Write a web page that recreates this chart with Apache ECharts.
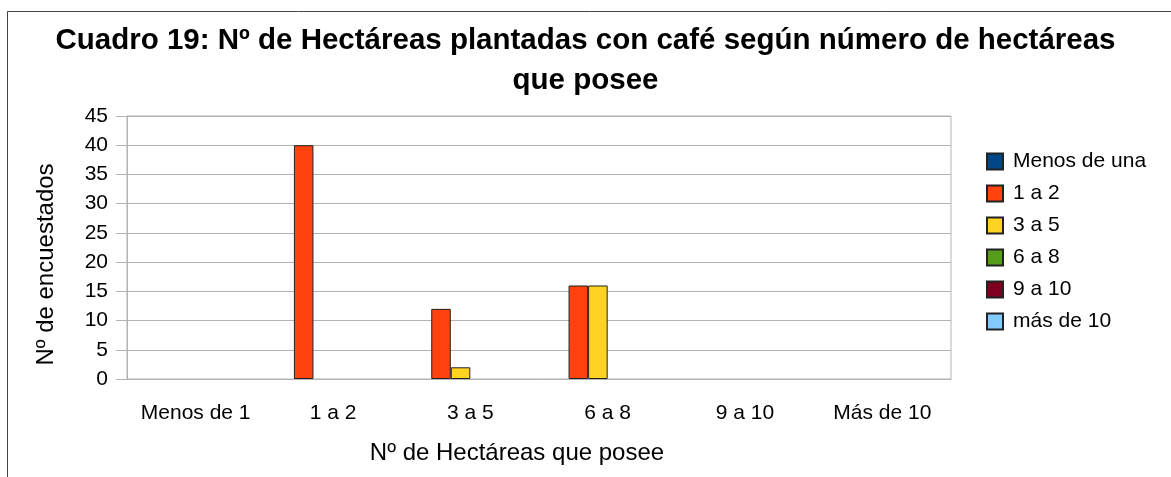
<!DOCTYPE html>
<html>
<head>
<meta charset="utf-8">
<title>Cuadro 19</title>
<script src="https://cdn.jsdelivr.net/npm/echarts@6/dist/echarts.min.js"></script>
<style>
  html, body { margin: 0; padding: 0; background: #fff; }
  #chart { width: 1171px; height: 477px; }
</style>
</head>
<body>
<div id="chart"></div>
<script>
// categories on the x axis
const categories = ['Menos de 1', '1 a 2', '3 a 5', '6 a 8', '9 a 10', 'Más de 10']

// one series per legend entry
const seriesNames = ['Menos de una', '1 a 2', '3 a 5', '6 a 8', '9 a 10', 'más de 10']
const menosDeUna = [0, 0, 0, 0, 0, 0]
const unoADos = [0, 40, 12, 16, 0, 0]
const tresACinco = [0, 0, 2, 16, 0, 0]
const seisAOcho = [0, 0, 0, 0, 0, 0]
const nueveADiez = [0, 0, 0, 0, 0, 0]
const masDeDiez = [0, 0, 0, 0, 0, 0]
const seriesValues = [menosDeUna, unoADos, tresACinco, seisAOcho, nueveADiez, masDeDiez]

const colors = ['#004586', '#ff420e', '#ffd320', '#579d1c', '#7e0021', '#83caff']

const yMin = 0
const yMax = 45
const yStep = 5

const font = '"Liberation Sans", Arial, sans-serif'

const chart = echarts.init(document.getElementById('chart'), null, { renderer: 'canvas' })

chart.setOption({
  backgroundColor: '#ffffff',
  animation: false,
  color: colors,
  textStyle: { fontFamily: font, color: '#000' },
  title: {
    text: 'Cuadro 19: Nº de Hectáreas plantadas con café según número de hectáreas\nque posee',
    left: 'center',
    top: 16,
    padding: [5, 0, 5, 14],
    textStyle: {
      fontFamily: font,
      fontSize: 29.5,
      fontWeight: 'bold',
      lineHeight: 40,
      align: 'center',
      color: '#000',
    },
  },
  legend: {
    orient: 'vertical',
    left: 986,
    top: 151,
    itemWidth: 16,
    itemHeight: 16,
    itemGap: 11,
    icon: 'rect',
    padding: 0,
    textStyle: {
      fontFamily: font,
      fontSize: 21,
      lineHeight: 21,
      color: '#000',
      padding: [0, 0, 0, 5],
    },
    data: seriesNames,
  },
  grid: {
    left: 127,
    right: 220,
    top: 116,
    bottom: 98,
    show: true,
    borderColor: '#b3b3b3',
    borderWidth: 1,
  },
  xAxis: {
    type: 'category',
    data: categories,
    name: 'Nº de Hectáreas que posee',
    nameLocation: 'middle',
    nameGap: 62,
    nameTextStyle: {
      fontFamily: font,
      fontSize: 24,
      color: '#000',
      padding: [0, 44, 0, 0],
    },
    axisLine: { lineStyle: { color: '#b3b3b3' } },
    axisTick: { length: 11, lineStyle: { color: '#b3b3b3' } },
    axisLabel: { interval: 0, fontFamily: font, fontSize: 21, color: '#000', margin: 24 },
  },
  yAxis: {
    type: 'value',
    min: yMin,
    max: yMax,
    interval: yStep,
    name: 'Nº de encuestados',
    nameLocation: 'middle',
    nameRotate: 90,
    nameGap: 69,
    nameTextStyle: {
      fontFamily: font,
      fontSize: 24,
      color: '#000',
      padding: [0, 34, 0, 0],
    },
    axisLine: { show: true, lineStyle: { color: '#b3b3b3' } },
    axisTick: { show: true, length: 11, lineStyle: { color: '#b3b3b3' } },
    axisLabel: { fontFamily: font, fontSize: 21, color: '#000', margin: 19 },
    splitLine: { lineStyle: { color: '#b3b3b3' } },
  },
  graphic: [
    {
      type: 'rect',
      silent: true,
      shape: { x: 7.5, y: 11.5, width: 1200, height: 500 },
      style: { fill: 'none', stroke: '#444', lineWidth: 1 },
    },
  ],
  series: seriesNames.map((name, i) => ({
    name,
    type: 'bar',
    // zero-height bars get no outline, so they leave no stroke on the baseline
    data: seriesValues[i].map(v => (v === 0 ? { value: v, itemStyle: { borderWidth: 0 } } : v)),
    barGap: '0%',
    barCategoryGap: '14.6%',
    itemStyle: { color: colors[i], borderColor: '#222', borderWidth: 1 },
  })),
})
</script>
</body>
</html>
